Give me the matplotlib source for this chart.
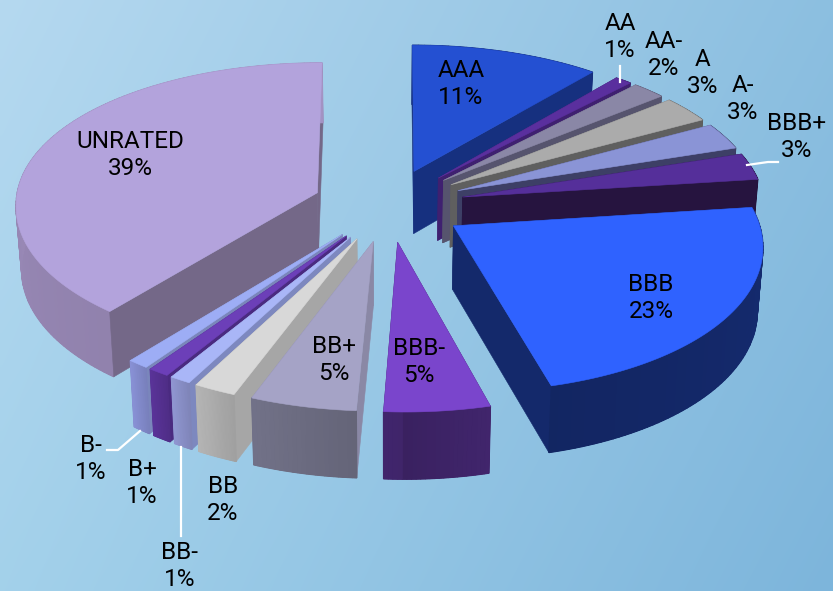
import numpy as np
import matplotlib
matplotlib.use("Agg")
import matplotlib.pyplot as plt
from matplotlib.colors import to_rgb
from matplotlib.patches import Polygon

# Portfolio share by credit rating
categories = ["AAA", "AA", "AA-", "A", "A-", "BBB+", "BBB", "BBB-",
              "BB+", "BB", "BB-", "B+", "B-", "UNRATED"]
shares = [11, 1, 2, 3, 3, 3, 23, 5, 5, 2, 1, 1, 1, 39]

top_colors = ["#2450d2", "#5a2f9e", "#8a87a6", "#ababab", "#8a94d6", "#552f9a", "#2f62ff",
              "#7a45cc", "#a5a3c6", "#d8d8d8", "#a9b6f7", "#6c3fb8", "#9dadf5", "#b3a3dc"]
arc_colors = ["#16307f", "#3f2070", "#56546e", "#5f5f5f", "#3d3f66", "#26143f", "#14296b",
              "#3d2366", "#6b6b80", "#aaaaaa", "#878dc4", "#54308f", "#8088c8", "#9a8ab8"]
radial_colors = ["#16307f", "#3f2070", "#56546e", "#5f5f5f", "#3d3f66", "#26143f", "#14296b",
                 "#3d2366", "#8a88a5", "#a6a6a6", "#7d88bf", "#4a2a80", "#7a86bb", "#746888"]

label_centers = [(461, 84), (620, 37), (664, 55), (703, 73), (743, 99), (797, 137), (651, 298),
                 (419, 362), (334, 360), (223, 500), (180, 566), (142, 483), (91, 459), (130, 155)]

leader_lines = [[(620, 66), (620, 82)],
                [(747, 165), (768, 162), (778, 162)],
                [(107, 450), (118, 450), (140, 431)],
                [(181, 447), (181, 536)]]

# Camera model for the tilted, exploded pie
CX, CY = 388.6, 205
RX, RY = 302, 145
PERSP_X_BACK, PERSP_X_FRONT = 0.07, 0.10
PERSP_Y, PERSP_Z = 0.099, 0.05
FRONT_DRIFT = 6.7
DEPTH = 63
EXPLODE = 0.252
BASE_SHRINK = 0.985


def project(gx, gy, lowered=False):
    persp_x = PERSP_X_BACK if gy > 0 else PERSP_X_FRONT
    sx = RX * gx / (1 + persp_x * gy) + FRONT_DRIFT * max(0, -gy)
    sy = RY * gy / (1 + PERSP_Y * gy)
    if lowered:
        return CX + sx * BASE_SHRINK, CY - sy + DEPTH / (1 + PERSP_Z * gy)
    return CX + sx, CY - sy


def shade(color, factor):
    return tuple(min(1, c * factor) for c in to_rgb(color))


fig = plt.figure(figsize=(8.33, 5.91), dpi=100)
ax = fig.add_axes([0, 0, 1, 1])
ax.set_xlim(0, 833)
ax.set_ylim(591, 0)
ax.axis("off")

# Diagonal background wash
u, v = np.meshgrid(np.linspace(0, 1, 200), np.linspace(0, 1, 200))
corners = np.array([[0.71, 0.85, 0.94], [0.55, 0.75, 0.88], [0.64, 0.82, 0.92], [0.49, 0.71, 0.86]])
wash = ((1 - u) * (1 - v))[..., None] * corners[0] + (u * (1 - v))[..., None] * corners[1] \
    + ((1 - u) * v)[..., None] * corners[2] + (u * v)[..., None] * corners[3]
ax.imshow(wash, extent=(0, 833, 591, 0), aspect="auto", zorder=0, interpolation="bilinear")

edges = np.concatenate([[0], np.cumsum(shares)]) / sum(shares) * 2 * np.pi
mids = (edges[:-1] + edges[1:]) / 2
order = np.argsort(-np.cos(mids))
z = 1.0


def add_face(points, color, line=0.4):
    global z
    ax.add_patch(Polygon(points, closed=True, facecolor=color, edgecolor=color, lw=line, zorder=z))
    z += 0.001


for i in order:
    ox, oy = EXPLODE * np.sin(mids[i]), EXPLODE * np.cos(mids[i])
    ang = np.linspace(edges[i], edges[i + 1], max(24, int(shares[i] * 3)))
    gx, gy = ox + np.sin(ang), oy + np.cos(ang)

    radial = []
    for k in (0, -1):
        quad = [project(ox, oy), project(gx[k], gy[k]), project(gx[k], gy[k], True), project(ox, oy, True)]
        radial.append(((oy + gy[k]) / 2, quad))

    rim_top = [project(a, b) for a, b in zip(gx, gy)]
    rim_low = [project(a, b, True) for a, b in zip(gx, gy)]

    # The rim sits on a flat backing so neighbouring shaded strips leave no seams
    rim_segments = []
    for k in range(len(ang) - 1):
        frac = k / (len(ang) - 2)
        factor = 1.06 - 0.14 * frac if ang[k] < np.pi else 0.94 + 0.12 * frac
        quad = [rim_top[k], rim_top[k + 1], rim_low[k + 1], rim_low[k]]
        rim_segments.append((quad, shade(arc_colors[i], factor)))

    def draw_rim():
        add_face(rim_top + rim_low[::-1], arc_colors[i])
        for quad, color in rim_segments:
            add_face(quad, color, line=0.9)

    rim_depth = np.mean(gy)
    drawn_rim = False
    for depth, quad in sorted(radial, key=lambda f: -f[0]):
        if not drawn_rim and rim_depth > depth:
            draw_rim()
            drawn_rim = True
        add_face(quad, radial_colors[i])
    if not drawn_rim:
        draw_rim()

    add_face([project(ox, oy)] + rim_top, top_colors[i])

for path in leader_lines:
    xs, ys = zip(*path)
    ax.plot(xs, ys, color="white", lw=1.6, zorder=5, solid_joinstyle="round")

for name, share, (x, y) in zip(categories, shares, label_centers):
    ax.text(x, y, f"{name}\n{share}%", ha="center", va="center", ma="center", color="black",
            fontsize=17.5, linespacing=1.27, zorder=6, family="Roboto")

fig.savefig("out.png", dpi=100)
